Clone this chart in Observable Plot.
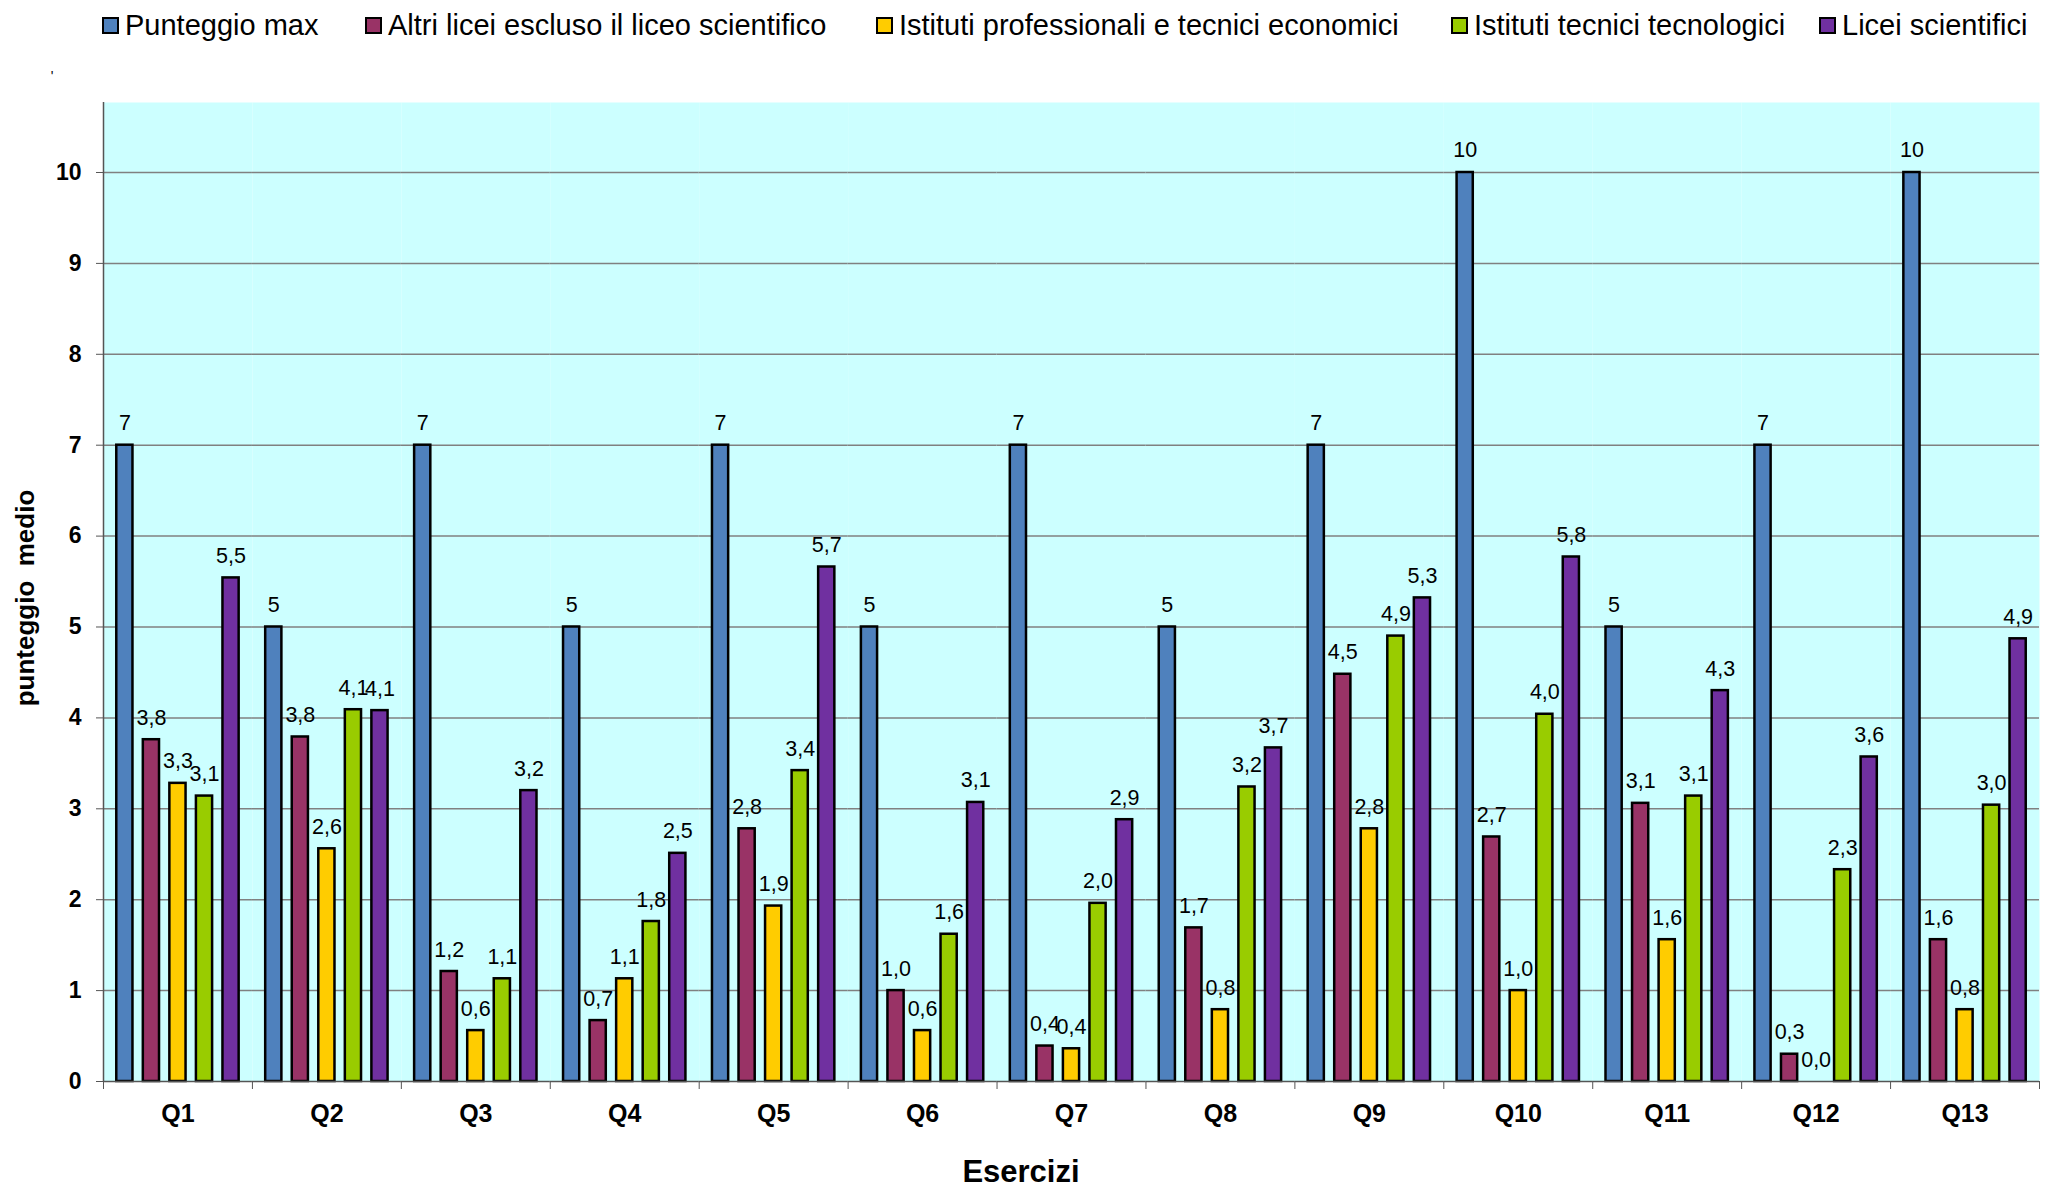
<!DOCTYPE html>
<html>
<head>
<meta charset="utf-8">
<script src="https://cdn.jsdelivr.net/npm/d3@7"></script>
<script src="https://cdn.jsdelivr.net/npm/@observablehq/plot@0.6"></script>
<style>
  body { margin: 0; background: #fff; font-family: "Liberation Sans", Arial, sans-serif; }
  #wrap { position: relative; width: 2045px; height: 1188px; overflow: hidden; }
  #legend { position: relative; width: 2045px; height: 60px; }
  .item { position: absolute; top: 0; height: 51px; display: flex; align-items: center; font-size: 29px; white-space: nowrap; color: #000; }
  .sw { width: 13px; height: 13px; border: 2px solid #000; margin-right: 6px; flex: none; }
  .ov { position: absolute; white-space: pre; line-height: 1; color: #000; }
  #chart svg { display: block; }
</style>
</head>
<body>
<div id="wrap">
  <div id="legend"></div>
  <div id="chart"></div>
</div>
<script>
// ---- data ----
const questions = ["Q1","Q2","Q3","Q4","Q5","Q6","Q7","Q8","Q9","Q10","Q11","Q12","Q13"];
const series = [
  "Punteggio max",
  "Altri licei escluso il liceo scientifico",
  "Istituti professionali e tecnici economici",
  "Istituti tecnici tecnologici",
  "Licei scientifici"
];
const colors = ["#4F81BD", "#993366", "#FFCC00", "#99CC00", "#7030A0"];
const puntMax    = [7, 5, 7, 5, 7, 5, 7, 5, 7, 10, 5, 7, 10];
const altriLicei = [3.76, 3.79, 1.21, 0.67, 2.78, 1.00, 0.39, 1.69, 4.48, 2.69, 3.06, 0.30, 1.56];
const istProf    = [3.28, 2.56, 0.56, 1.13, 1.93, 0.56, 0.36, 0.79, 2.78, 1.00, 1.56, 0.00, 0.79];
const istTecn    = [3.14, 4.09, 1.13, 1.76, 3.42, 1.62, 1.96, 3.24, 4.90, 4.04, 3.14, 2.33, 3.04];
const liceiSci   = [5.54, 4.08, 3.20, 2.51, 5.66, 3.07, 2.88, 3.67, 5.32, 5.77, 4.30, 3.57, 4.87];
const yTicks = [0, 1, 2, 3, 4, 5, 6, 7, 8, 9, 10];
const yTitle = "punteggio\u00A0\u00A0medio";
const xTitle = "Esercizi";
const legendLeft = [102, 365, 876, 1451, 1819];

const valuesBySeries = [puntMax, altriLicei, istProf, istTecn, liceiSci];
const rows = [];
questions.forEach((q, i) => {
  series.forEach((s, j) => {
    const v = valuesBySeries[j][i];
    rows.push({q, s, v, label: j === 0 ? String(v) : v.toFixed(1).replace(".", ",")});
  });
});

// ---- legend ----
const legend = document.getElementById("legend");
series.forEach((s, j) => {
  const it = document.createElement("div");
  it.className = "item";
  it.style.left = legendLeft[j] + "px";
  const sw = document.createElement("span");
  sw.className = "sw";
  sw.style.background = colors[j];
  const tx = document.createElement("span");
  tx.textContent = s;
  it.appendChild(sw); it.appendChild(tx);
  legend.appendChild(it);
});

// ---- chart ----
const W = 2045, H = 1128, ML = 103, MR = 6, MT = 42, MB = 107;
const PI = 0.39, PO = 0.5;
const BW = (W - ML - MR) / questions.length;
const step = BW / (series.length - PI + 2 * PO);
const leftOff = PO * step + (1 - PI) * step / 2;

const chart = Plot.plot({
  width: W, height: H,
  marginLeft: ML, marginRight: MR, marginTop: MT, marginBottom: MB,
  style: { fontFamily: "Liberation Sans, Arial, sans-serif", background: "white", color: "black", overflow: "visible" },
  fx: { domain: questions, padding: 0, round: false, label: null },
  x: { domain: series, paddingInner: PI, paddingOuter: PO, round: false, axis: null },
  y: { domain: [0, 10.77], label: null },
  color: { domain: series, range: colors },
  marks: [
    Plot.frame({ fill: "#CCFFFF", stroke: "none" }),
    Plot.gridY({ ticks: yTicks.slice(1), stroke: "#808080", strokeOpacity: 1, strokeWidth: 1.5 }),
    Plot.barY(rows.filter(d => d.v > 0), { fx: "q", x: "s", y: "v", fill: "s", stroke: "#000", strokeWidth: 2.5 }),
    Plot.text(rows, { fx: "q", x: "s", y: "v", text: "label", lineAnchor: "bottom", dy: -15, fontSize: 21.5, fill: "#000" }),
    Plot.ruleY([0], { stroke: "#555", strokeWidth: 1.5 }),
    Plot.ruleX([{ q: "Q1", s: series[0] }], { fx: "q", x: "s", dx: -leftOff, stroke: "#555", strokeWidth: 1.5 }),
    Plot.axisY({ ticks: yTicks, tickSize: 7, tickPadding: 15, fontSize: 23, fontWeight: "bold", label: null, stroke: "#555" }),
    Plot.axisFx({ anchor: "bottom", tickSize: 0, tickPadding: 23, fontSize: 25, fontWeight: "bold", label: null }),
    Plot.axisFx({ anchor: "bottom", tickSize: 8, tickFormat: () => "", dx: -BW / 2, label: null, stroke: "#555" }),
    Plot.axisFx({ anchor: "bottom", ticks: ["Q13"], tickSize: 8, tickFormat: () => "", dx: BW / 2, label: null, stroke: "#555" })
  ]
});
document.getElementById("chart").appendChild(chart);

// ---- axis titles ----
const wrap = document.getElementById("wrap");
function overlay(text, left, top, size, rotate, weight) {
  const el = document.createElement("div");
  el.className = "ov";
  el.textContent = text;
  el.style.left = left + "px";
  el.style.top = top + "px";
  el.style.fontSize = size + "px";
  el.style.fontWeight = weight;
  el.style.transform = "translate(-50%,-50%)" + (rotate ? " rotate(-90deg)" : "");
  wrap.appendChild(el);
}
overlay(yTitle, 25, 598, 26, true, "bold");
overlay(xTitle, 1021, 1171, 31, false, "bold");
overlay("'", 52, 76, 14, false, "normal");
</script>
</body>
</html>
